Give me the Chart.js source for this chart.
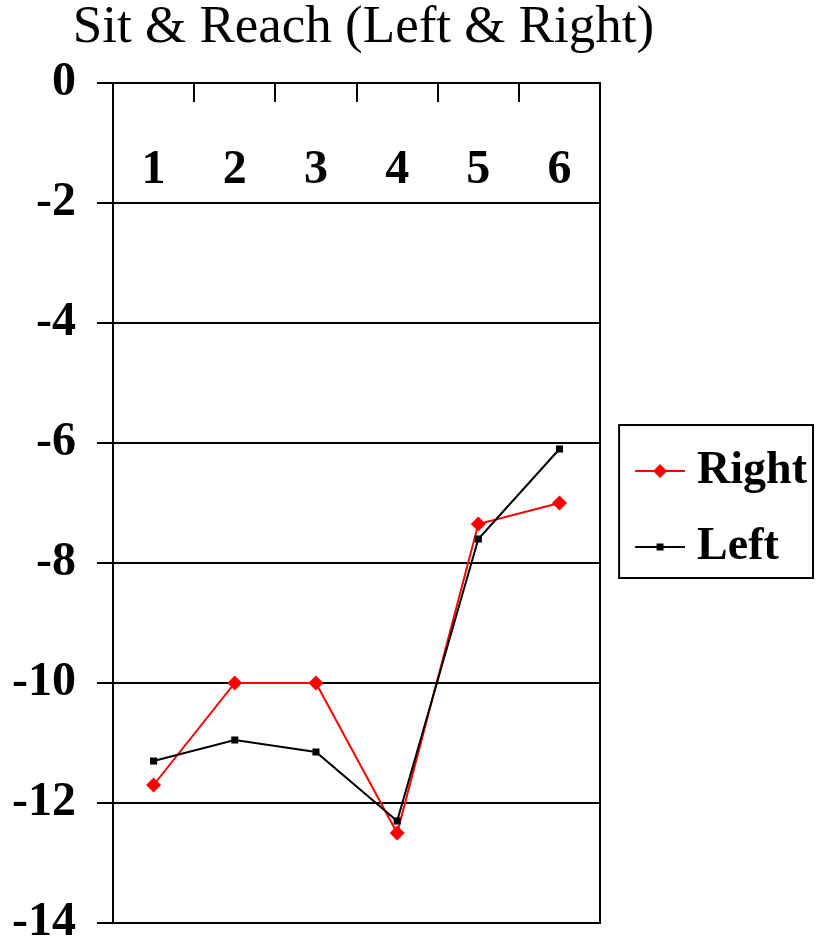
<!DOCTYPE html>
<html>
<head>
<meta charset="utf-8">
<script src="https://cdn.jsdelivr.net/npm/chart.js@4/dist/chart.umd.min.js"></script>
<style>
    html, body { margin: 0; padding: 0; background: #fff; }
    #wrap { width: 817px; height: 952px; }
</style>
</head>
<body>
<div id="wrap"><canvas id="sitReachChart" width="817" height="952"></canvas></div>
<script>
// Data
const trials = ['1', '2', '3', '4', '5', '6'];
const rightValues = [-11.7, -10, -10, -12.5, -7.35, -7.0];
const leftValues = [-11.3, -10.95, -11.15, -12.3, -7.6, -6.1];
const yTicks = { min: -14, max: 0, step: 2 };

const serif = "'Liberation Serif', 'Times New Roman', serif";

// Little line + marker icon used as legend point style
function legendIcon(color, style) {
    const c = document.createElement('canvas');
    c.width = 66;
    c.height = 20;
    const g = c.getContext('2d');
    g.strokeStyle = color;
    g.lineWidth = 2;
    g.beginPath();
    g.moveTo(16, 10);
    g.lineTo(66, 10);
    g.stroke();
    g.fillStyle = color;
    if (style === 'rectRot') {
        g.beginPath();
        g.moveTo(41, 3);
        g.lineTo(48, 10);
        g.lineTo(41, 17);
        g.lineTo(34, 10);
        g.closePath();
        g.fill();
    } else {
        g.fillRect(37.5, 6.5, 7, 7);
    }
    return c;
}

// Draws the frame round the legend entries
const legendFrame = {
    id: 'legendFrame',
    afterDraw(chart) {
        const boxes = chart.legend && chart.legend.legendHitBoxes;
        if (!boxes || !boxes.length) return;
        const first = boxes[0];
        const last = boxes[boxes.length - 1];
        const ctx = chart.ctx;
        const left = first.left - 11;
        const right = Math.max(...boxes.map(b => b.left + b.width)) + 6;
        const top = first.top + first.height / 2 - 46;
        const bottom = last.top + last.height / 2 + 31;
        ctx.save();
        ctx.strokeStyle = '#000';
        ctx.lineWidth = 2;
        ctx.strokeRect(left, top, right - left, bottom - top);
        ctx.restore();
    }
};

const ctx = document.getElementById('sitReachChart').getContext('2d');

new Chart(ctx, {
    type: 'line',
    data: {
        labels: trials,
        datasets: [{
            label: 'Right',
            data: rightValues,
            order: 1,
            borderColor: '#ff0000',
            backgroundColor: '#ff0000',
            borderWidth: 2,
            pointStyle: 'rectRot',
            pointRadius: 7.5,
            pointBorderWidth: 0,
            tension: 0,
            fill: false
        }, {
            label: 'Left',
            data: leftValues,
            order: 0,
            borderColor: '#000000',
            backgroundColor: '#000000',
            borderWidth: 2,
            pointStyle: 'rect',
            pointRadius: 5,
            pointBorderWidth: 0,
            tension: 0,
            fill: false
        }]
    },
    options: {
        responsive: false,
        animation: false,
        // negative left padding shifts the full-width title so it sits over the plot
        layout: { padding: { left: -90 } },
        plugins: {
            title: {
                display: true,
                text: 'Sit & Reach (Left & Right)',
                color: '#000',
                font: { family: serif, size: 53, weight: 'normal', lineHeight: 1 },
                padding: { top: 2, bottom: 28 }
            },
            legend: {
                display: true,
                position: 'right',
                fullSize: false,
                reverse: true,
                maxWidth: 237,
                title: { display: true, text: ' ', padding: 0, font: { size: 10 } },
                labels: {
                    usePointStyle: true,
                    pointStyleWidth: 44,
                    padding: 30,
                    color: '#000',
                    font: { family: serif, size: 46, weight: 'bold' },
                    generateLabels: (chart) => Chart.defaults.plugins.legend.labels.generateLabels(chart)
                        .map(item => {
                            const ds = chart.data.datasets[item.datasetIndex];
                            return { ...item, pointStyle: legendIcon(ds.borderColor, ds.pointStyle) };
                        })
                }
            },
            tooltip: { enabled: false }
        },
        scales: {
            x: {
                type: 'category',
                position: { y: 0 },
                offset: true,
                afterFit: (scale) => { scale.height = 0; },
                grid: {
                    offset: true,
                    drawOnChartArea: false,
                    drawTicks: true,
                    tickLength: 18,
                    color: '#000',
                    lineWidth: 2
                },
                border: { display: true, color: '#000', width: 2 },
                ticks: {
                    color: '#000',
                    padding: 41,
                    maxRotation: 0,
                    font: { family: serif, size: 48, weight: 'bold' }
                }
            },
            y: {
                position: 'left',
                min: yTicks.min,
                max: yTicks.max,
                afterFit: (scale) => {
                    scale.width = 203;
                    scale.paddingBottom = 29;
                },
                grid: {
                    color: '#000',
                    lineWidth: 2,
                    tickLength: 16
                },
                border: { display: true, color: '#000', width: 2 },
                ticks: {
                    stepSize: yTicks.step,
                    padding: 21,
                    color: '#000',
                    font: { family: serif, size: 48, weight: 'bold' }
                }
            },
            yRight: {
                position: 'right',
                min: yTicks.min,
                max: yTicks.max,
                afterFit: (scale) => { scale.width = 0; },
                grid: { drawOnChartArea: false, drawTicks: false },
                border: { display: true, color: '#000', width: 2 },
                ticks: { display: false }
            }
        }
    },
    plugins: [legendFrame]
});
</script>
</body>
</html>
